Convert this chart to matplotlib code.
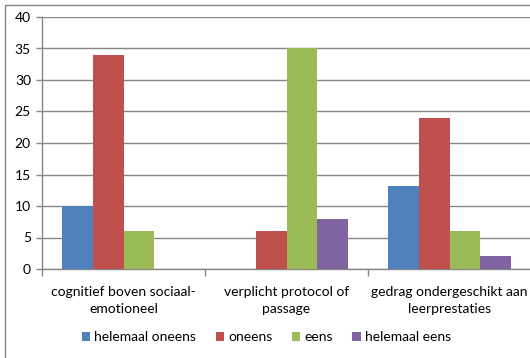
import matplotlib
matplotlib.use("Agg")
import matplotlib.pyplot as plt
from matplotlib.patches import Rectangle, Patch
import numpy as np

plt.rcParams['font.family'] = ['Lato', 'DejaVu Sans']

categories = ["cognitief boven sociaal-\nemotioneel",
              "verplicht protocol of\npassage",
              "gedrag ondergeschikt aan\nleerprestaties"]
series_names = ["helemaal oneens", "oneens", "eens", "helemaal eens"]
helemaal_oneens = [10, 0, 13.2]
oneens = [34, 6, 24]
eens = [6, 35, 6]
helemaal_eens = [0, 8, 2]
yticks = [0, 5, 10, 15, 20, 25, 30, 35, 40]
colors = ["#4F81BD", "#C0504D", "#9BBB59", "#8064A2"]

W, H = 530, 358
fig = plt.figure(figsize=(W / 100, H / 100), dpi=100)
ax = fig.add_axes([42 / W, 1 - 269 / H, (531 - 42) / W, (269 - 17) / H])

x = np.arange(len(categories))
bw = 0.1875
data = [helemaal_oneens, oneens, eens, helemaal_eens]
for i, (vals, c, name) in enumerate(zip(data, colors, series_names)):
    ax.bar(x + (i - 1.5) * bw, vals, width=bw, color=c, label=name, zorder=3)

grey = "#868686"
ax.set_xlim(-0.5, 2.5)
ax.set_ylim(0, 40)
ax.set_yticks(yticks)
ax.yaxis.grid(True, color=grey, linewidth=1, zorder=0)
for s in ["top", "right"]:
    ax.spines[s].set_visible(False)
for s in ["left", "bottom"]:
    ax.spines[s].set_color(grey)
    ax.spines[s].set_linewidth(1)
ax.tick_params(axis='y', length=4, width=1, color=grey, pad=4, labelsize=10, labelcolor="#000000")
ax.set_xticks(x)
ax.set_xticklabels(categories, fontsize=10, linespacing=1.5)
ax.tick_params(axis='x', which='major', length=0, pad=12)
ax.set_xticks([-0.5, 0.5, 1.5, 2.5], minor=True)
ax.tick_params(axis='x', which='minor', length=5, width=1, color=grey)

handles = [Patch(facecolor=c, edgecolor='none') for c in colors]
fig.legend(handles, series_names, loc='center', bbox_to_anchor=(266.5 / W, 1 - 337 / H),
           ncol=4, frameon=False, fontsize=10, handlelength=0.6, handleheight=0.6,
           handletextpad=0.3, columnspacing=1.4)

fig.patches.append(Rectangle((4.5 / W, -0.5), 2, 1.5 - 4.5 / H, transform=fig.transFigure,
                             fill=False, edgecolor=grey, linewidth=1))

fig.savefig("out.png", dpi=100)
